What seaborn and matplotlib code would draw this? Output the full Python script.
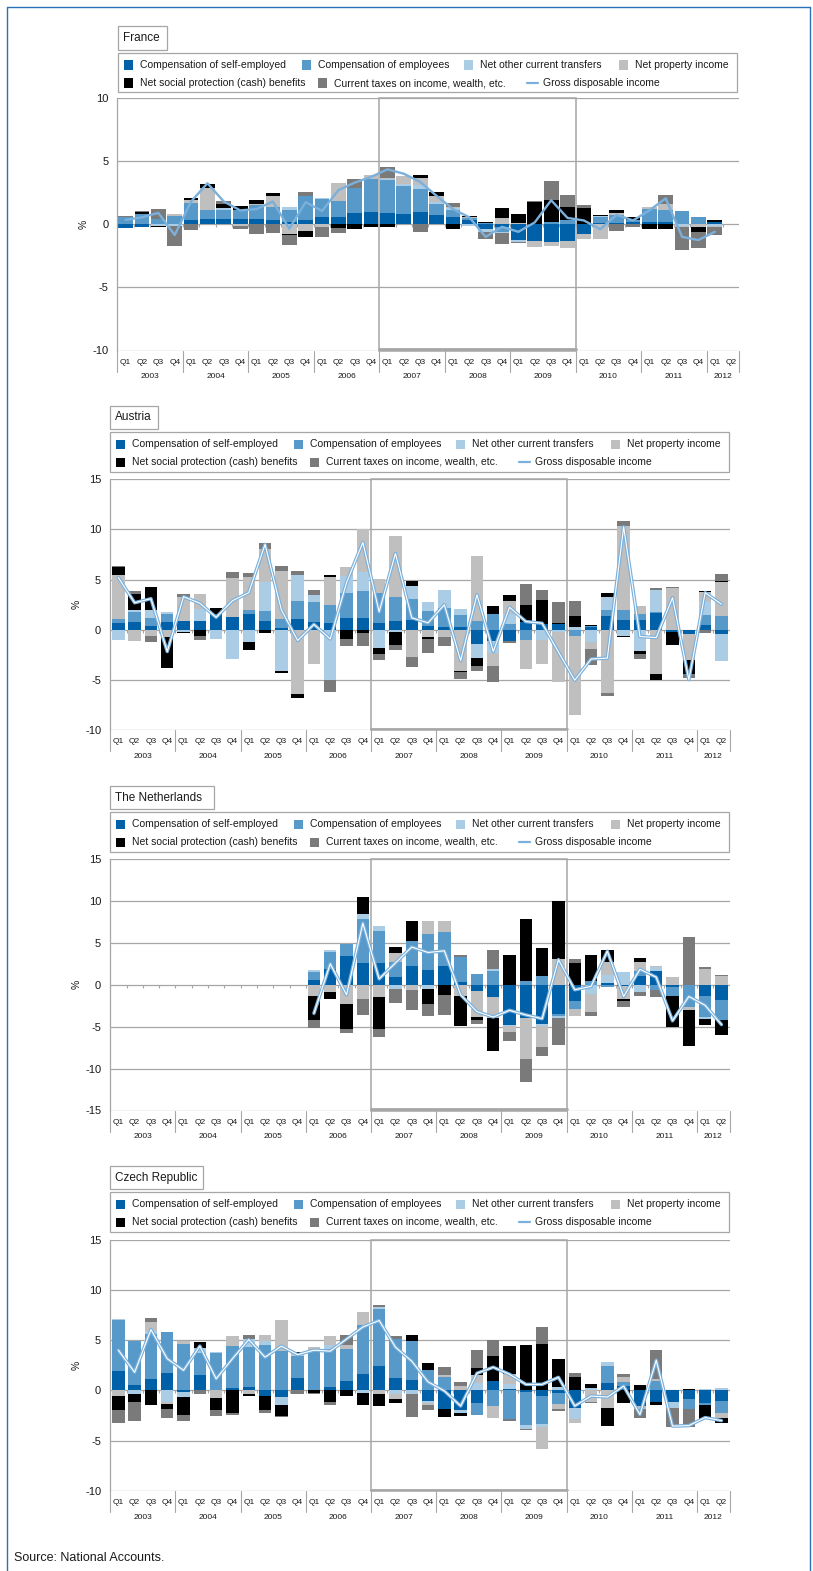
import numpy as np
import pandas as pd
import matplotlib.pyplot as plt
import seaborn as sns
from matplotlib.patches import Rectangle
from matplotlib.lines import Line2D

nan = np.nan

# 2003 Q1 .. 2012 Q2
quarters = [f"{y} Q{q}" for y in range(2003, 2013) for q in range(1, 5)][:38]
years = [str(y) for y in range(2003, 2013)]

components = ["Compensation of self-employed", "Compensation of employees",
              "Net other current transfers", "Net property income",
              "Net social protection (cash) benefits",
              "Current taxes on income, wealth, etc."]
comp_colors = ["#0061a8", "#5799c9", "#aacce4", "#bfbfbf", "#000000", "#7a7a7a"]
gdi_label = "Gross disposable income"
gdi_color = "#7ab0db"

# ---- France ----
fr_self = [-0.3, -0.25, 0, 0, 0.35, 0.4, 0.4, 0.4, 0.4, 0.35, 0.2, 0.3, 0.6, 0.55, 0.9, 1.0,
           0.9, 0.85, 1.0, 0.75, 0.6, 0.3, -0.4, -0.25, -1.25, -1.35, -1.4, -1.3, -0.75, 0.1,
           0.1, 0.2, 0.2, 0.15, 0.05, 0, 0.2, nan]
fr_emp = [0.55, 0.8, 0.4, 0.65, 1.35, 0.7, 0.75, 0.7, 1.1, 1.05, 0.95, 1.9, 1.4, 1.3, 2.0, 2.55,
          2.6, 2.15, 1.8, 0.85, 0.55, 0.2, 0.1, -0.35, 0, 0, 0.2, 0.35, 0, 0.45,
          0.6, 0.15, 1.0, 0.95, 1.0, 0.6, 0, nan]
fr_trans = [0, 0, -0.15, -0.1, 0, 0, 0.1, 0, 0.05, 0, 0.2, 0.05, 0.05, 0, 0, 0,
            0.1, 0.2, 0.3, 0.15, 0.15, -0.1, -0.2, -0.1, -0.15, 0, 0, 0, 0, 0.1,
            0, 0, 0, 0, -0.1, 0, -0.15, nan]
fr_prop = [0, 0.05, 0, 0.15, 0.25, 1.75, 0, -0.1, 0.05, 0.85, -0.8, -0.5, -0.25, 1.45, 0, 0.35,
           0.05, 0.6, 0.55, 0.45, 0.1, 0.1, 0, 0.5, 0.1, -0.45, -0.3, -0.6, -0.4, -1.15,
           0.2, 0, 0.2, 0.5, -0.1, -0.25, -0.1, nan]
fr_soc = [0, 0.15, -0.1, 0, 0.15, 0.35, 0.35, 0.37, 0.3, 0.2, -0.05, -0.5, 0, -0.3, -0.4, -0.25,
          -0.25, 0.05, 0.27, 0.35, -0.35, 0.05, 0.05, 0.75, 0.75, 1.8, 1.75, 1.0, 1.3, 0.1,
          0.2, 0.2, -0.35, -0.35, 0, -0.4, 0.1, nan]
fr_tax = [0.1, 0.05, 0.8, -1.6, -0.45, 0, 0.25, -0.3, -0.75, -0.7, -0.8, 0.3, -0.75, -0.4, 0.7, 0,
          0.85, 0, -0.6, 0, 0.25, 0, -0.6, -0.85, -0.05, 0.05, 1.45, 0.95, 0.2, -0.05,
          -0.5, -0.25, 0, 0.7, -1.85, -1.2, -0.6, nan]
fr_gdi = [0.35, 0.55, 0.9, -0.85, 1.8, 3.25, 1.8, 1.1, 1.2, 1.8, -0.35, 1.75, 1.05, 2.7, 3.3, 3.75,
          4.35, 4.0, 3.35, 2.25, 1.2, 0.55, -1.0, -0.2, -0.6, 0.15, 1.9, 0.5, 0.3, -0.4,
          0.75, 0.3, 1.1, 2.05, -1.0, -1.25, -0.6, nan]

# ---- Austria ----
at_self = [0.73, 0.83, 0.4, 0.83, 0.9, 0.9, 1.55, 1.3, 1.6, 0.9, 0.23, 1.1, 0.83, 0.7, 1.2, 1.2,
           0.73, 0.9, 1.0, 0.43, 0.33, 0.33, -1.4, -1.15, -1.15, 0.8, 0.56, 0.6, 0, 0.27,
           1.4, 1.0, 1.0, 1.65, -0.17, -0.4, 0.5, -0.4]
at_emp = [0.36, 0.9, 0.75, 0.75, 0, 0, 0, 0, 0.4, 1.0, 0.9, 1.8, 1.95, 1.8, 2.5, 2.7,
          2.95, 2.4, 2.1, 1.45, 1.8, 1.15, 0.9, 1.6, 0.6, -1.0, 0, 0, -0.6, 0.1,
          0.6, 1.0, 0.6, 0.1, 0, 0, 1.0, 1.4]
at_trans = [-1.05, 0.25, 0.85, 0.2, -0.25, 1.2, -0.9, -2.9, -1.2, 2.9, -4.1, 2.6, 0.73, -5.0, 1.65, 1.85,
            -1.8, -0.25, 1.25, 0.9, 1.8, 0.6, -1.35, -1.15, 0.95, 0, -1.05, -0.23, 0.33, -1.25,
            1.3, -0.56, -2.1, 2.2, 0, 0, 1.3, -2.65]
at_prop = [4.4, -1.15, -0.65, -0.7, 2.4, 1.5, 0, 3.9, 3.3, 3.2, 4.7, -6.35, -3.4, 2.8, 0.93, 4.25,
           1.35, 6.05, -2.7, -0.73, -0.66, -4.1, 6.4, -1.3, 1.3, -2.9, -2.3, -4.9, -7.9, -0.63,
           -6.3, 8.35, 0.8, -4.4, 4.15, -2.6, 0.93, 3.4]
at_soc = [0.73, 1.6, 2.3, -3.1, -0.07, -0.65, 0.6, 0, -0.8, -0.27, -0.23, -0.46, 0, 0.13, -0.9, -0.27,
          -0.56, -1.3, 0.53, -0.17, 0, -0.1, -0.83, 0.8, 0.6, 1.65, 2.4, 0.13, 1.05, 0.1,
          0.4, -0.1, -0.3, -0.6, -1.3, -1.4, 0.13, 0.1]
at_tax = [0.1, 0.3, -0.6, 0, 0.27, -0.4, 0, 0.56, 0.36, 0.6, 0.56, 0.4, 0.46, -1.13, -0.75, -1.3,
          -0.66, -0.45, -0.96, -1.35, -0.9, -0.73, -0.46, -1.6, -0.17, 2.1, 1.0, 2.0, 1.5, -1.6,
          -0.27, 0.43, -0.5, 0.17, 0.1, -0.36, -0.27, 0.66]
at_gdi = [5.2, 2.7, 3.1, -2.15, 3.3, 2.65, 1.25, 2.9, 3.7, 8.5, 2.0, -1.05, 0.55, -0.9, 4.7, 8.7,
          1.8, 7.6, 1.2, 0.7, 2.5, -3.05, 3.5, -2.15, 2.25, 0.83, 0.66, -2.2, -5.0, -2.9,
          -2.8, 10.25, -0.66, -0.76, 3.2, -4.95, 3.7, 2.55]

# ---- The Netherlands (no data before 2006) ----
nl_self = [nan] * 12 + [0.6, 1.85, 3.45, 2.65, 2.65, 0.87, 2.2, 1.8, 2.25, 0.3, -0.8, -1.5,
                        -4.75, -4.0, -4.65, -3.45, -1.9, 0, 0.2, -0.2, 1.1, 1.6, -0.3, 0, -1.4, -1.8]
nl_emp = [nan] * 12 + [0.95, 2.0, 1.45, 5.15, 3.8, 1.9, 3.0, 4.3, 4.0, 3.0, 1.3, 1.65,
                       0, 0.5, 1.0, -0.3, -0.95, 0.5, -0.3, 0, 0.55, -0.6, -1.1, -2.6, -2.45, -2.4]
nl_trans = [nan] * 12 + [0.15, 0.25, 0, 0.65, 0.5, -0.5, 0, -0.5, 0, 0, 0, 0.25,
                         -0.2, 0, -0.3, -0.25, 0, -1.05, 1.0, 1.5, -0.87, 0.5, 0, 0, -0.2, 0]
nl_prop = [nan] * 12 + [-1.4, -0.9, -2.25, -1.65, -1.5, 1.05, -0.67, 1.55, 1.3, -1.3, -3.0, -2.45,
                        -0.7, -4.85, -2.5, 3.05, -0.9, -2.2, 1.5, -1.5, 1.1, 0.15, 0.87, -0.4, 1.9, 1.07]
nl_soc = [nan] * 12 + [-2.8, -0.8, -3.0, 2.05, -3.75, 0.7, 2.4, -1.8, -1.2, -3.6, -0.4, -4.0,
                       3.6, 7.4, 3.4, 6.95, 2.65, 3.1, 1.45, -0.25, 0.4, 0, -3.6, -4.25, -0.7, -1.85]
nl_tax = [nan] * 12 + [-0.9, 0, -0.55, -2.0, -1.0, -1.65, -2.4, -1.4, -2.4, 0.3, -0.5, 2.2,
                       -1.1, -2.8, -1.0, -3.2, 0.45, -0.5, 0, -0.75, -0.5, -0.9, 0, 5.75, 0.2, 0.12]
nl_gdi = [nan] * 12 + [-3.4, 2.5, -1.2, 7.35, 0.7, 2.6, 4.5, 3.85, 4.05, -1.2, -3.2, -3.85,
                       -3.05, -3.6, -4.05, 3.0, -0.6, -0.2, 4.0, -1.4, 1.85, 0.9, -4.3, -1.4, -2.45, -4.75]

# ---- Czech Republic ----
cz_self = [1.9, 0.5, 1.1, 1.7, -0.13, 1.5, 0, 0.2, 0.36, -0.56, -0.63, 1.2, 0, 0.33, 0.93, 1.6,
           2.4, 1.2, 1.0, -1.05, -1.8, -1.95, -1.3, 0.93, 0.1, -0.17, -0.56, -0.3, -1.7, 0,
           0.76, 0.43, -1.55, -1.2, -1.2, -0.9, -1.3, -1.1]
cz_emp = [5.1, 4.4, 4.5, 4.1, 4.65, 2.25, 3.75, 4.2, 3.95, 4.55, 3.95, 2.2, 3.8, 3.75, 3.2, 4.9,
          5.7, 3.95, 3.9, 2.0, 1.3, 0, -1.1, -1.55, -2.8, -3.3, -2.8, -1.1, 0, 0,
          1.65, 0.43, 0, 0.93, 0, -0.9, -0.2, -1.1]
cz_trans = [0.1, -0.33, 0.35, -1.2, -0.55, 0.43, 0.07, 0, 0.76, 0.4, -0.85, 0.07, 0, 0.4, 0, -0.3,
            0.23, -0.4, -0.33, -0.17, 0, -0.27, 0.76, 0, 0.53, -0.4, -0.27, 0.36, -1.1, 0.27,
            0.4, 0, 0, 0, -0.56, 0, 0.1, 0.2]
cz_prop = [-0.55, 0, 0.8, -0.17, 0.25, 0, -0.8, 1.05, -0.4, 0.6, 3.0, 0.27, 0.53, 0.93, 0.36, 1.3,
           -0.4, -0.5, 0, -0.27, 0.27, 0.43, 0.73, -1.2, 1.0, 0, -2.2, -0.4, -0.46, -1.2,
           -1.7, 0.5, -0.27, 0.23, 0, 0, 0, -0.56]
cz_soc = [-1.4, -0.85, -1.45, -0.5, -1.8, 0.63, -1.1, -2.2, -0.17, -1.4, -1.05, 0.1, -0.23, -1.15, -0.56, -1.15,
          -1.15, -0.4, 0.56, 0.7, -0.83, -0.33, 0.7, 2.5, 2.8, 4.55, 4.65, 2.8, 1.35, 0.33,
          -1.8, -1.3, 0.5, -0.27, 0, 0.1, -1.3, -0.5]
cz_tax = [-1.3, -1.9, 0.45, -0.9, -0.55, -0.33, -0.66, -0.27, 0.4, -0.3, -0.1, -0.33, -0.1, -0.3, 1.05, 0,
          0.17, 0.3, -2.3, -0.46, 0.76, 0.43, 1.8, 1.55, -0.27, -0.1, 1.7, -0.27, 0.33, -0.1,
          0, 0.23, -0.96, 2.9, -1.85, -1.85, 0, 0]
cz_gdi = [4.0, 1.8, 6.05, 3.15, 2.0, 4.4, 1.15, 3.15, 5.05, 3.3, 4.4, 3.55, 4.0, 3.9, 5.1, 6.3,
          6.95, 4.3, 2.9, 0.85, -0.05, -1.55, 1.7, 2.3, 1.6, 0.6, 0.6, 1.3, -1.55, -0.56,
          -0.66, 0.43, -2.4, 3.0, -3.55, -3.5, -2.7, -3.0]

# ---------------- drawing ----------------
W, H = 813, 1571
sns.set_theme(style="white")
plt.rcParams["font.family"] = ["Liberation Sans", "DejaVu Sans"]
narrow = ["Liberation Sans Narrow", "Liberation Sans", "DejaVu Sans"]
grid_c = "#a6a6a6"
text_c = "#1a1a1a"

fig = plt.figure(figsize=(W / 100, H / 100), dpi=100)


def fx(px):
    return px / W


def fy(py):
    return 1 - py / H


def fig_box(l, t, r, b):
    fig.add_artist(Rectangle((fx(l), fy(b)), fx(r - l), (b - t) / H, transform=fig.transFigure,
                             facecolor="white", edgecolor=grid_c, linewidth=0.9))


def draw_legend(l, t):
    row1 = [(6, 0), (184, 1), (346, 2), (501, 3)]
    row2 = [(6, 4), (200, 5), (409, None)]
    for row, entries in ((t + 12, row1), (t + 30, row2)):
        for off, k in entries:
            x = l + off
            if k is None:
                fig.add_artist(Line2D([fx(x), fx(x + 11)], [fy(row), fy(row)], transform=fig.transFigure,
                                      color=gdi_color, linewidth=1.6))
                label = gdi_label
            else:
                fig.add_artist(Rectangle((fx(x), fy(row + 4.5)), fx(9), 9 / H, transform=fig.transFigure,
                                         facecolor=comp_colors[k], edgecolor="none"))
                label = components[k]
            fig.text(fx(x + 16), fy(row), label, fontsize=7.5, va="center", ha="left", color=text_c)


def draw_panel(name, comps, gdi, title_box, legend_box, axes_box, ylim, bar_w, double):
    fig_box(*title_box)
    fig.text(fx(title_box[0] + 5), fy((title_box[1] + title_box[3]) / 2), name,
             fontsize=8.5, va="center", ha="left", color=text_c)
    fig_box(*legend_box)
    draw_legend(legend_box[0], legend_box[1])

    l, t, r, b = axes_box
    hpx, wpx = b - t, r - l
    ax = fig.add_axes([fx(l), fy(b), fx(wpx), hpx / H])

    vals = np.array(comps, dtype=float)
    pos = np.cumsum(np.clip(vals, 0, None), axis=0)
    neg = np.cumsum(np.clip(vals, None, 0), axis=0)
    idx = list(range(len(quarters)))
    # stacked bars: draw cumulative totals from the outermost layer inwards
    for k in reversed(range(len(components))):
        for cum in (pos, neg):
            df = pd.DataFrame({"q": idx, "v": cum[k]})
            sns.barplot(data=df, x="q", y="v", order=idx, color=comp_colors[k], saturation=1,
                        width=bar_w, errorbar=None, linewidth=0, ax=ax, zorder=2)

    sns.lineplot(x=np.arange(len(gdi)), y=gdi, color=gdi_color, linewidth=2.5 if double else 1.7,
                 estimator=None, sort=False, ax=ax, zorder=4)
    if double:
        sns.lineplot(x=np.arange(len(gdi)), y=gdi, color="white", linewidth=0.8,
                     estimator=None, sort=False, ax=ax, zorder=5)

    ax.set_xlim(-0.5, len(quarters) - 0.5)
    ax.set_ylim(*ylim)
    yt = np.arange(ylim[0], ylim[1] + 1, 5)
    ax.set_yticks(yt)
    ax.set_yticklabels([str(v) for v in yt])
    ax.tick_params(axis="y", length=0, pad=6.5, labelsize=8, labelcolor=text_c)
    ax.set_xticks([])
    ax.set_xlabel("")
    ax.set_ylabel("%", fontsize=7.5, color=text_c)
    ax.yaxis.set_label_coords(-29 / wpx, 0.5)
    ax.set_axisbelow(True)
    ax.grid(axis="y", color=grid_c, linewidth=0.9)
    ax.grid(axis="x", visible=False)
    for s in ("top", "right", "bottom"):
        ax.spines[s].set_visible(False)
    ax.spines["left"].set_color(grid_c)
    ax.spines["left"].set_linewidth(0.9)

    ppu = hpx / (ylim[1] - ylim[0])
    ax.vlines(np.arange(-0.5, len(quarters)), 0, -3 / ppu, color=grid_c, linewidth=0.8, zorder=1.5)

    # crisis window 2007-2009
    ax.add_patch(Rectangle((15.5, ylim[0]), 12, ylim[1] - ylim[0], fill=False,
                           edgecolor=grid_c, linewidth=1.1, zorder=1.2, clip_on=False))
    ax.plot([15.5, 27.5], [ylim[0] + 1.5 / ppu] * 2, color=grid_c, linewidth=2, zorder=1.2)

    # two level category axis
    tr = ax.get_xaxis_transform()
    for i, q in enumerate(quarters):
        ax.text(i, -11.5 / hpx, q.split()[1], transform=tr, ha="center", va="center",
                fontsize=6, family=narrow, color=text_c)
    for yr in years:
        pos_y = [i for i, q in enumerate(quarters) if q.startswith(yr)]
        ax.text(np.mean(pos_y), -26.5 / hpx, yr, transform=tr, ha="center", va="center",
                fontsize=6, family=narrow, color=text_c)
    bounds = [-0.5] + [i + 0.5 for i in range(3, len(quarters), 4)] + [len(quarters) - 0.5]
    for xb in bounds:
        ax.plot([xb, xb], [0, -21 / hpx], transform=tr, color=grid_c, linewidth=0.8, clip_on=False)
    return ax


draw_panel("France", [fr_self, fr_emp, fr_trans, fr_prop, fr_soc, fr_tax], fr_gdi,
           (118, 26, 167, 50), (118, 53, 737, 92), (117.4, 98, 739.4, 350.5), (-10, 10), 0.9, False)
draw_panel("Austria", [at_self, at_emp, at_trans, at_prop, at_soc, at_tax], at_gdi,
           (110, 406, 158, 429), (110, 432, 729, 472), (110.2, 479, 729.6, 730.5), (-10, 15), 0.76, True)
draw_panel("The Netherlands", [nl_self, nl_emp, nl_trans, nl_prop, nl_soc, nl_tax], nl_gdi,
           (110, 786, 214, 809), (110, 812, 729, 852), (110.2, 859, 729.6, 1110.5), (-15, 15), 0.76, True)
draw_panel("Czech Republic", [cz_self, cz_emp, cz_trans, cz_prop, cz_soc, cz_tax], cz_gdi,
           (110, 1166, 203, 1189), (110, 1192, 729, 1232), (110.2, 1239.5, 729.6, 1491), (-10, 15), 0.76, True)

fig.text(fx(14), fy(1558), "Source: National Accounts.", fontsize=9, family=narrow,
         va="center", ha="left", color=text_c)

# outer frame
border = "#2a72b8"
fig.add_artist(Line2D([fx(7), fx(7)], [fy(7), 0], transform=fig.transFigure, color=border, linewidth=1))
fig.add_artist(Line2D([fx(7), fx(810)], [fy(7), fy(7)], transform=fig.transFigure, color=border, linewidth=1))
fig.add_artist(Line2D([fx(810), fx(810)], [fy(7), 0], transform=fig.transFigure, color=border, linewidth=1))

fig.savefig("out.png", dpi=100)
